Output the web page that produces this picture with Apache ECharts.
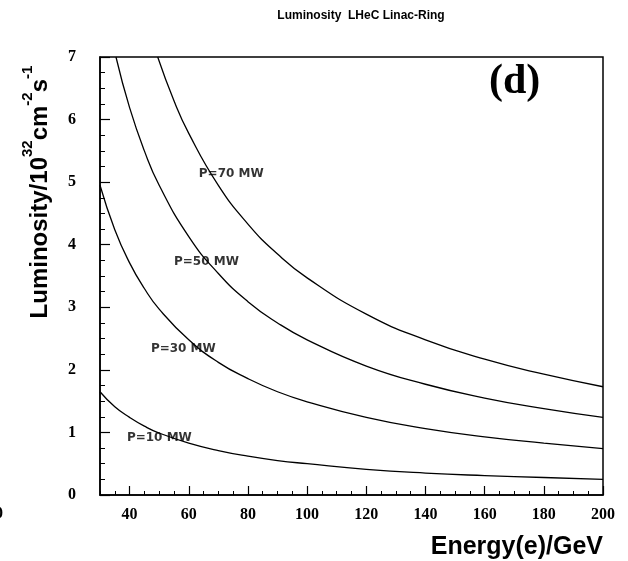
<!DOCTYPE html>
<html>
<head>
<meta charset="utf-8">
<script src="https://cdn.jsdelivr.net/npm/echarts@6/dist/echarts.min.js"></script>
<style>
  html, body { margin: 0; padding: 0; background: #fff; }
  #main { width: 628px; height: 561px; }
</style>
</head>
<body>
<div id="main"></div>
<script>
// values
var energy10 = [30, 35, 40, 45, 50, 60, 70, 80, 90, 100, 120, 140, 160, 180, 200];
var lumi10   = [1.65, 1.41, 1.24, 1.10, 0.99, 0.83, 0.71, 0.62, 0.55, 0.50, 0.41, 0.35, 0.31, 0.28, 0.25];

var energy30 = [30, 35, 40, 45, 50, 60, 70, 80, 90, 100, 120, 140, 160, 180, 200];
var lumi30   = [4.95, 4.24, 3.71, 3.30, 2.97, 2.48, 2.12, 1.86, 1.65, 1.49, 1.24, 1.06, 0.93, 0.83, 0.74];

var energy50 = [35.4, 40, 45, 50, 60, 70, 80, 90, 100, 120, 140, 160, 180, 200];
var lumi50   = [7.0, 6.19, 5.50, 4.95, 4.13, 3.54, 3.09, 2.75, 2.48, 2.06, 1.77, 1.55, 1.38, 1.24];

var energy70 = [49.5, 55, 60, 70, 80, 90, 100, 120, 140, 160, 180, 200];
var lumi70   = [7.0, 6.30, 5.78, 4.95, 4.33, 3.85, 3.47, 2.89, 2.48, 2.17, 1.93, 1.73];

var curveNames = ['P=10 MW', 'P=30 MW', 'P=50 MW', 'P=70 MW'];
var labelE = [39.1, 47.2, 55.0, 63.4];
var labelL = [0.91, 2.33, 3.72, 5.14];

var xTicks = [40, 60, 80, 100, 120, 140, 160, 180, 200];

function pairs(xs, ys) {
  return xs.map(function (x, i) { return [x, ys[i]]; });
}

var chartDom = document.getElementById('main');
var myChart = echarts.init(chartDom);

var tickFont = { fontFamily: 'Liberation Serif', fontWeight: 'bold', fontSize: 16, color: '#000' };

var curves = [pairs(energy10, lumi10), pairs(energy30, lumi30), pairs(energy50, lumi50), pairs(energy70, lumi70)];

var series = curves.map(function (d, i) {
  return {
    name: curveNames[i],
    type: 'line',
    data: d,
    smooth: true,
    symbol: 'none',
    clip: true,
    lineStyle: { color: '#000', width: 1.3 },
    z: 2
  };
});

series.push({
  type: 'scatter',
  data: labelE.map(function (e, i) { return [e, labelL[i], curveNames[i]]; }),
  symbolSize: 0,
  silent: true,
  z: 3,
  label: {
    show: true,
    position: 'right',
    distance: 0,
    formatter: function (p) { return p.data[2]; },
    fontFamily: 'DejaVu Sans',
    fontSize: 12,
    fontWeight: 'bold',
    color: '#000'
  }
});

var option = {
  animation: false,
  backgroundColor: '#fff',
  title: {
    text: 'Luminosity  LHeC Linac-Ring',
    left: 356,
    top: 5,
    textAlign: 'center',
    textStyle: { fontFamily: 'Liberation Sans', fontWeight: 'bold', fontSize: 12, color: '#000' }
  },
  grid: {
    left: 100, right: 25, top: 57, bottom: 66,
    show: true, borderColor: '#000', borderWidth: 1.5
  },
  xAxis: [{
    type: 'value',
    min: 30, max: 200,
    axisLine: { show: true, lineStyle: { color: '#000', width: 1.5 } },
    axisTick: { show: true, inside: true, length: 9, customValues: xTicks, lineStyle: { color: '#000', width: 1.2 } },
    axisLabel: { customValues: xTicks, margin: 12, showMinLabel: true, showMaxLabel: true, ...tickFont },
    splitLine: { show: false },
    name: 'Energy(e)/GeV',
    nameLocation: 'end',
    nameGap: 0,
    nameTextStyle: {
      fontFamily: 'Liberation Sans', fontWeight: 'bold', fontSize: 25, color: '#000',
      align: 'right', verticalAlign: 'top', padding: [40, 0, 0, 0]
    }
  }, {
    // minor ticks every 5 GeV
    type: 'value',
    min: 30, max: 200, interval: 5,
    position: 'bottom',
    axisLine: { show: false },
    axisTick: { show: true, inside: true, length: 4, lineStyle: { color: '#000', width: 1 } },
    axisLabel: { show: false },
    splitLine: { show: false }
  }],
  yAxis: {
    type: 'value',
    min: 0, max: 7, interval: 1,
    axisLine: { show: true, lineStyle: { color: '#000', width: 1.5 } },
    axisTick: { show: true, inside: true, length: 10, lineStyle: { color: '#000', width: 1.2 } },
    minorTick: { show: true, splitNumber: 4, length: 5, lineStyle: { color: '#000', width: 1 } },
    axisLabel: { margin: 24, ...tickFont },
    splitLine: { show: false }
  },
  graphic: [{
    type: 'text',
    x: 36, y: 192,
    rotation: Math.PI / 2,
    style: {
      text: '{b|Luminosity/10}{s|32}{b|cm}{s|-2}{b|s}{s|-1}',
      align: 'center',
      verticalAlign: 'middle',
      rich: {
        b: { fontFamily: 'Liberation Sans', fontWeight: 'bold', fontSize: 24, fill: '#000', verticalAlign: 'bottom', lineHeight: 32 },
        s: { fontFamily: 'Liberation Sans', fontWeight: 'bold', fontSize: 15, fill: '#000', verticalAlign: 'top', lineHeight: 32 }
      }
    }
  }, {
    type: 'text',
    left: 489, top: 61,
    style: { text: '(d)', fontFamily: 'Liberation Serif', fontWeight: 'bold', fontSize: 42, fill: '#000' }
  }, {
    type: 'text',
    left: -5, top: 506,
    style: { text: '0', fontFamily: 'Liberation Serif', fontWeight: 'bold', fontSize: 16, fill: '#000' }
  }],
  series: series
};

myChart.setOption(option);
</script>
</body>
</html>
